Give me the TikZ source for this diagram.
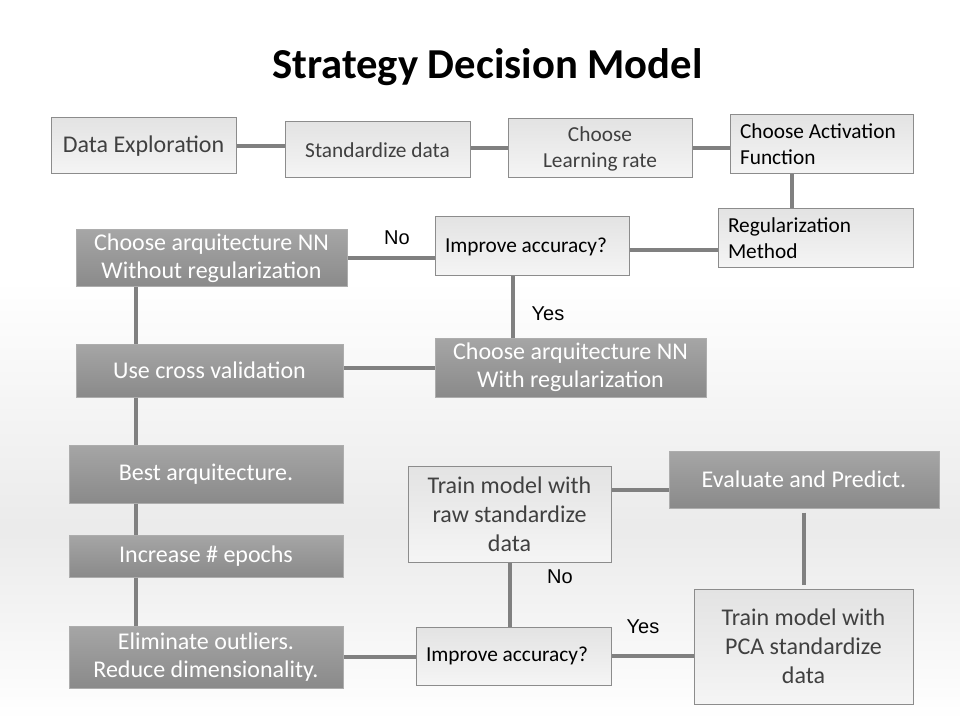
\documentclass[tikz,border=0pt]{standalone}
\usepackage{fontspec}
\setmainfont{Carlito}
\newfontfamily\answerfont{Liberation Sans}
\usetikzlibrary{positioning,calc}

\begin{document}
\begin{tikzpicture}[
  x=0.75pt, y=-0.75pt,
  lightbox/.style={draw=black!45, line width=0.75pt, top color=black!11,
    middle color=white, bottom color=black!4, inner sep=0pt, align=center,
    text=black!75, font=\fontsize{18}{21.75}\selectfont},
  darkbox/.style={draw=black!32, line width=0.75pt, top color=black!35,
    bottom color=black!46, inner sep=0pt, align=center, text=white,
    font=\fontsize{18}{21}\selectfont},
  small/.style={font=\fontsize{16}{19.5}\selectfont},
  leftbox/.style={small, align=flush left, inner xsep=7.5pt, text=black},
  link/.style={draw=black!50, line width=3pt},
  answer/.style={font=\answerfont\fontsize{15}{18}\selectfont}
]

% background
\useasboundingbox (0,0) rectangle (960,720);
\fill[white] (0,0) rectangle (960,280);
\fill[top color=white, bottom color=black!8] (0,280) rectangle (960,530);
\fill[top color=black!8, bottom color=white] (0,530) rectangle (960,720);

\node[font=\bfseries\fontsize{32}{38}\selectfont] (title) at (487.5,67)
  {Strategy Decision Model};

% top row
\node[lightbox, minimum width=138.75pt, minimum height=42pt] (DE) at (143.5,146)
  {Data Exploration};
\node[lightbox, small, minimum width=138.75pt, minimum height=42pt] (SD) at (377.5,150)
  {Standardize data};
\node[lightbox, small, minimum width=138pt, minimum height=44.25pt] (LR) at (600,148.5)
  {Choose\\Learning rate};
\node[lightbox, leftbox, text width=122.25pt, minimum height=44.25pt] (AF) at (821.5,144.5)
  {Choose Activation\\Function};
\node[lightbox, leftbox, text width=131.25pt, minimum height=44.25pt] (RM) at (815.5,238.5)
  {Regularization\\Method};
\node[lightbox, leftbox, text width=130.5pt, minimum height=44.25pt] (IA1) at (532,246.5)
  {Improve accuracy?};

% left column
\node[darkbox, minimum width=203.25pt, minimum height=42.75pt] (CWO) at (211.5,258.5)
  {Choose arquitecture NN\\Without regularization};
\node[darkbox, minimum width=203.25pt, minimum height=44.25pt] (CW) at (570.5,367.5)
  {Choose arquitecture NN\\With regularization};
\node[darkbox, minimum width=200.25pt, minimum height=39.75pt] (CV) at (209.5,370.5)
  {Use cross validation};
\node[darkbox, minimum width=205.5pt, minimum height=43.5pt] (BA) at (206,474)
  {Best arquitecture.};
\node[darkbox, minimum width=205.5pt, minimum height=31.5pt] (IE) at (206,556)
  {Increase \# epochs};
\node[darkbox, minimum width=205.5pt, minimum height=46.5pt] (EO) at (206,657)
  {Eliminate outliers.\\Reduce dimensionality.};

% bottom right
\node[lightbox, minimum width=152.25pt, minimum height=72pt] (TR) at (509.5,514)
  {Train model with\\raw standardize\\data};
\node[darkbox, minimum width=202.5pt, minimum height=42.75pt] (EP) at (804,479.5)
  {Evaluate and Predict.};
\node[lightbox, leftbox, text width=131.25pt, minimum height=43.5pt] (IA2) at (513.5,656)
  {Improve accuracy?};
\node[lightbox, minimum width=164.25pt, minimum height=86.25pt] (TP) at (803.5,646.5)
  {Train model with\\PCA standardize\\data};

% answers
\node[answer] (no1) at (397,238) {No};
\node[answer] (yes1) at (548,314) {Yes};
\node[answer] (no2) at (560,577) {No};
\node[answer] (yes2) at (643,627) {Yes};

\coordinate (spine) at (136,0);

\draw[link] (DE) -- (DE -| SD.west);
\draw[link] (LR.west) -- (LR.west -| SD.east);
\draw[link] (LR) -- (LR -| AF.west);
\draw[link] ([xshift=-22pt]AF.south) -- ([xshift=-22pt]AF.south |- RM.north);
\draw[link] ([yshift=-3pt]IA1.east) -- ([yshift=-3pt]IA1.east -| RM.west);
\draw[link] (CWO) -- (CWO -| IA1.west);
\draw[link] ([xshift=-14.25pt]IA1.south) -- ([xshift=-14.25pt]IA1.south |- CW.north);
\draw[link] (CW) -- (CW -| CV.east);

\draw[link] (CWO.south -| spine) -- (CV.north -| spine);
\draw[link] (CV.south -| spine) -- (BA.north -| spine);
\draw[link] (BA.south -| spine) -- (IE.north -| spine);
\draw[link] (IE.south -| spine) -- (EO.north -| spine);

\draw[link] (EO) -- (EO -| IA2.west);
\draw[link] (TR) -- (TR |- IA2.north);
\draw[link] (IA2) -- (IA2 -| TP.west);
\draw[link] ([yshift=-7.5pt]EP.west) -- ([yshift=-7.5pt]EP.west -| TR.east);
\draw[link, shorten <=3pt, shorten >=3pt] (EP) -- (EP |- TP.north);

\end{tikzpicture}
\end{document}
